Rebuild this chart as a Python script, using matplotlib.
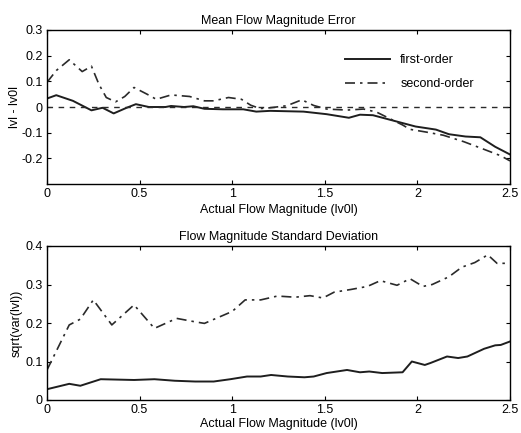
import matplotlib
matplotlib.use("Agg")
import matplotlib.pyplot as plt

plt.rcParams['font.family'] = ['Liberation Sans', 'DejaVu Sans']

# Top panel: mean flow magnitude error
x1_first = [0, 0.05, 0.14, 0.24, 0.3, 0.36, 0.43, 0.48, 0.55, 0.64, 0.67, 0.74, 0.79, 0.85,
            0.95, 1.06, 1.13, 1.205, 1.385, 1.51, 1.63, 1.69, 1.76, 1.88, 1.99, 2.1, 2.17,
            2.26, 2.34, 2.42, 2.5]
y1_first = [0.033, 0.046, 0.024, -0.013, -0.003, -0.025, -0.003, 0.011, 0.0, 0.0, 0.004, 0.0,
            0.003, -0.007, -0.009, -0.009, -0.018, -0.015, -0.018, -0.028, -0.042, -0.03, -0.032,
            -0.055, -0.076, -0.088, -0.106, -0.115, -0.118, -0.155, -0.185]
x1_second = [0, 0.05, 0.12, 0.19, 0.24, 0.28, 0.32, 0.37, 0.42, 0.47, 0.54, 0.59, 0.67, 0.77,
             0.85, 0.9, 0.98, 1.05, 1.1, 1.15, 1.205, 1.295, 1.376, 1.44, 1.51, 1.62, 1.71,
             1.78, 1.92, 1.96, 2.05, 2.14, 2.25, 2.36, 2.45, 2.5]
y1_second = [0.096, 0.142, 0.184, 0.138, 0.159, 0.089, 0.037, 0.02, 0.041, 0.076, 0.05, 0.03,
             0.047, 0.041, 0.024, 0.024, 0.037, 0.03, 0.007, -0.006, -0.003, 0.005, 0.028, 0.006,
             -0.008, -0.012, -0.008, -0.02, -0.07, -0.087, -0.098, -0.11, -0.135, -0.165, -0.19,
             -0.21]

# Bottom panel: flow magnitude standard deviation
x2_first = [0, 0.12, 0.18, 0.29, 0.47, 0.58, 0.69, 0.8, 0.9, 0.99, 1.08, 1.154, 1.21, 1.3,
            1.39, 1.44, 1.51, 1.62, 1.69, 1.74, 1.81, 1.92, 1.97, 2.04, 2.07, 2.16, 2.22, 2.27,
            2.36, 2.42, 2.45, 2.5]
y2_first = [0.028, 0.042, 0.037, 0.054, 0.052, 0.054, 0.05, 0.048, 0.048, 0.054, 0.061, 0.061,
            0.065, 0.061, 0.059, 0.061, 0.07, 0.078, 0.072, 0.074, 0.07, 0.072, 0.1, 0.091,
            0.096, 0.113, 0.109, 0.113, 0.133, 0.142, 0.143, 0.152]
x2_second = [0, 0.12, 0.18, 0.25, 0.35, 0.47, 0.58, 0.7, 0.8, 0.85, 1.0, 1.07, 1.154, 1.244,
             1.34, 1.42, 1.49, 1.55, 1.64, 1.73, 1.8, 1.89, 1.96, 2.03, 2.08, 2.17, 2.24, 2.31,
             2.38, 2.43, 2.49]
y2_second = [0.078, 0.195, 0.21, 0.26, 0.195, 0.247, 0.186, 0.212, 0.203, 0.199, 0.23, 0.26,
             0.26, 0.27, 0.267, 0.271, 0.265, 0.28, 0.287, 0.295, 0.31, 0.298, 0.315, 0.295, 0.3,
             0.32, 0.345, 0.357, 0.377, 0.355, 0.355]

x_ticks = [0, 0.5, 1, 1.5, 2, 2.5]
x_ticklabels = ['0', '0.5', '1', '1.5', '2', '2.5']
y1_ticks = [-0.2, -0.1, 0, 0.1, 0.2, 0.3]
y1_ticklabels = ['-0.2', '-0.1', '0', '0.1', '0.2', '0.3']
y2_ticks = [0, 0.1, 0.2, 0.3, 0.4]
y2_ticklabels = ['0', '0.1', '0.2', '0.3', '0.4']

fig = plt.figure(figsize=(5.21, 4.33), dpi=100)
W, H = 521, 433
ax1 = fig.add_axes([47 / W, 1 - 184 / H, (510 - 47) / W, (184 - 30) / H])
ax2 = fig.add_axes([47 / W, 1 - 400 / H, (510 - 47) / W, (400 - 246) / H])

fs = 9
lc = '#1e1e1e'
ax1.plot(x1_first, y1_first, color=lc, lw=1.4, label='first-order')
ax1.plot(x1_second, y1_second, color='#2a2a2a', lw=1.2, ls='-.', label='second-order',
         dashes=(6, 3, 1.5, 3))
ax1.axhline(0, color='#2a2a2a', lw=1.0, ls='--', dashes=(4, 4))
ax1.set_xlim(0, 2.5)
ax1.set_ylim(-0.3, 0.3)
ax1.set_yticks(y1_ticks)
ax1.set_yticklabels(y1_ticklabels)
ax1.set_title('Mean Flow Magnitude Error', fontsize=fs, pad=4)
ax1.set_ylabel('lvl - lv0l', fontsize=fs, labelpad=0)
ax1.legend(loc='upper left', frameon=False, fontsize=fs, handlelength=3.6,
           bbox_to_anchor=(0.644, 0.842), borderaxespad=0, borderpad=0,
           labelspacing=0.95, handletextpad=0.8)

ax2.plot(x2_first, y2_first, color=lc, lw=1.4)
ax2.plot(x2_second, y2_second, color='#2a2a2a', lw=1.2, ls='-.', dashes=(6, 3, 1.5, 3))
ax2.set_xlim(0, 2.5)
ax2.set_ylim(0, 0.4)
ax2.set_yticks(y2_ticks)
ax2.set_yticklabels(y2_ticklabels)
ax2.set_title('Flow Magnitude Standard Deviation', fontsize=fs, pad=4)
ax2.set_ylabel('sqrt(var(lvl))', fontsize=fs, labelpad=2)

for ax, lp in ((ax1, 3), (ax2, 1)):
    ax.set_xticks(x_ticks)
    ax.set_xticklabels(x_ticklabels)
    ax.set_xlabel('Actual Flow Magnitude (lv0l)', fontsize=fs, labelpad=lp)
    ax.tick_params(direction='in', top=True, right=True, labelsize=fs, length=3, width=0.8,
                   pad=3)
    for s in ax.spines.values():
        s.set_linewidth(1.0)

fig.savefig('out.png', dpi=100)
